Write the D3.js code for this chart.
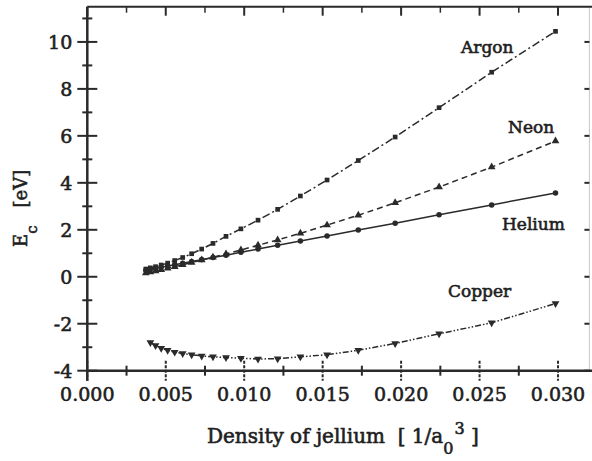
<!DOCTYPE html>
<html>
<head>
<meta charset="utf-8">
<script src="https://cdn.jsdelivr.net/npm/d3@7"></script>
<style>
  html, body { margin: 0; padding: 0; background: #fff; }
  svg { display: block; }
  text { font-family: "DejaVu Serif", serif; fill: #1e1e1e; stroke: #1e1e1e; stroke-width: 0.6px; white-space: pre; }
</style>
</head>
<body>
<svg id="chart" width="592" height="461"></svg>
<script>
// Jellium densities (1/a0^3) at which embedding energies were computed
const density = [0.00373, 0.00402, 0.00435, 0.00471, 0.00512, 0.00557, 0.00608,
  0.00665, 0.00729, 0.00801, 0.00884, 0.00979, 0.01088, 0.01213, 0.01358,
  0.01528, 0.01727, 0.01962, 0.02242, 0.02577, 0.02984];
const copperDensity = density.slice(1);

// Embedding energies E_c (eV)
const argon = [0.33, 0.38, 0.43, 0.50, 0.58, 0.69, 0.82, 0.98, 1.18, 1.42, 1.72,
  2.04, 2.41, 2.87, 3.44, 4.12, 4.95, 5.95, 7.20, 8.71, 10.45];
const neon = [0.16, 0.20, 0.25, 0.30, 0.36, 0.43, 0.51, 0.61, 0.71, 0.83, 0.97,
  1.14, 1.34, 1.57, 1.85, 2.20, 2.62, 3.15, 3.82, 4.67, 5.78];
const helium = [0.28, 0.32, 0.36, 0.40, 0.46, 0.51, 0.58, 0.65, 0.73, 0.82, 0.92,
  1.04, 1.18, 1.34, 1.52, 1.74, 1.99, 2.28, 2.64, 3.06, 3.57];
const copper = [-2.80, -2.93, -3.04, -3.13, -3.21, -3.27, -3.32, -3.37, -3.41,
  -3.44, -3.47, -3.50, -3.49, -3.41, -3.32, -3.13, -2.84, -2.43, -1.96, -1.14];

const xTicks = [0, 0.005, 0.010, 0.015, 0.020, 0.025, 0.030];
const yTicks = [-4, -2, 0, 2, 4, 6, 8, 10];

const svg = d3.select("#chart");
const plotLeft = 87.3, plotRight = 589.4, plotTop = 6.7, plotBottom = 370.7;

const x = d3.scaleLinear().domain([0, 0.032]).range([plotLeft, plotRight]);
const y = d3.scaleLinear().domain([-4, 11.5]).range([plotBottom, plotTop]);

const ink = "#2a2a2a";

// Series definitions
const series = [
  { name: "Argon", xs: density, ys: argon, dash: "8,3,2,3", marker: "square",
    label: [461, 53] },
  { name: "Neon", xs: density, ys: neon, dash: "6,4", marker: "triangle",
    label: [508, 133] },
  { name: "Helium", xs: density, ys: helium, dash: null, marker: "circle",
    label: [502, 230] },
  { name: "Copper", xs: copperDensity, ys: copper, dash: "6,2,1.5,2,1.5,2", marker: "triangleDown",
    label: [448, 297] }
];

const line = d3.line().x(d => x(d[0])).y(d => y(d[1]));
const symbols = {
  square: d3.symbol().type(d3.symbolSquare).size(22),
  triangle: d3.symbol().type(d3.symbolTriangle).size(26),
  circle: d3.symbol().type(d3.symbolCircle).size(24),
  triangleDown: d3.symbol().type(d3.symbolTriangle).size(26)
};

series.forEach(s => {
  const pts = s.xs.map((v, i) => [v, s.ys[i]]);
  svg.append("path")
    .datum(pts)
    .attr("d", line)
    .attr("fill", "none")
    .attr("stroke", ink)
    .attr("stroke-width", 1.5)
    .attr("stroke-dasharray", s.dash);
  svg.append("g").selectAll("path")
    .data(pts)
    .join("path")
    .attr("d", symbols[s.marker]())
    .attr("transform", d => `translate(${x(d[0])},${y(d[1])})` + (s.marker === "triangleDown" ? " rotate(180)" : ""))
    .attr("fill", ink);
  svg.append("text")
    .attr("x", s.label[0]).attr("y", s.label[1])
    .attr("font-size", 17)
    .text(s.name);
});

// Frame lines
svg.append("line").attr("x1", plotRight).attr("x2", plotRight).attr("y1", plotTop).attr("y2", plotBottom)
  .attr("stroke", "#c8c8c8").attr("stroke-width", 1);
svg.append("line").attr("x1", plotLeft).attr("x2", 592).attr("y1", plotTop).attr("y2", plotTop)
  .attr("stroke", ink).attr("stroke-width", 2);

// Bottom axis: ticks crossing the axis line
const xMinor = d3.range(0.0025, 0.032, 0.005);
const bottomAxis = svg.append("g").attr("transform", `translate(0,${plotBottom})`);
bottomAxis.append("line").attr("x1", plotLeft).attr("x2", 592).attr("stroke", ink).attr("stroke-width", 2.5);
bottomAxis.selectAll(".maj").data(xTicks).join("line")
  .attr("x1", d => x(d)).attr("x2", d => x(d)).attr("y1", -10).attr("y2", 10)
  .attr("stroke", ink).attr("stroke-width", 2).attr("stroke-dasharray", "3,1.5");
bottomAxis.selectAll(".min").data(xMinor).join("line")
  .attr("x1", d => x(d)).attr("x2", d => x(d)).attr("y1", -5).attr("y2", 5)
  .attr("stroke", ink).attr("stroke-width", 2);
bottomAxis.selectAll("text").data(xTicks).join("text")
  .attr("x", d => x(d)).attr("y", 30)
  .attr("text-anchor", "middle").attr("font-size", 19)
  .text(d3.format(".3f"));

// Top axis: inward ticks
const topAxis = svg.append("g").attr("transform", `translate(0,${plotTop})`);
topAxis.selectAll(".maj").data(xTicks).join("line")
  .attr("x1", d => x(d)).attr("x2", d => x(d)).attr("y1", 0).attr("y2", 9)
  .attr("stroke", ink).attr("stroke-width", 2);
topAxis.selectAll(".min").data(xMinor).join("line")
  .attr("x1", d => x(d)).attr("x2", d => x(d)).attr("y1", 0).attr("y2", 6)
  .attr("stroke", ink).attr("stroke-width", 1.5);

// Left axis
const yMinor = d3.range(-3, 11.5, 2);
const leftAxis = svg.append("g").attr("transform", `translate(${plotLeft},0)`);
leftAxis.append("line").attr("y1", plotTop).attr("y2", plotBottom + 10).attr("stroke", ink).attr("stroke-width", 2.5);
leftAxis.selectAll(".maj").data(yTicks).join("line")
  .attr("y1", d => y(d)).attr("y2", d => y(d)).attr("x1", -10).attr("x2", 10)
  .attr("stroke", ink).attr("stroke-width", 2);
leftAxis.selectAll(".min").data(yMinor).join("line")
  .attr("y1", d => y(d)).attr("y2", d => y(d)).attr("x1", -5).attr("x2", 5)
  .attr("stroke", ink).attr("stroke-width", 2);
leftAxis.selectAll("text").data(yTicks).join("text")
  .attr("x", -15).attr("y", d => y(d)).attr("dy", "0.36em")
  .attr("text-anchor", "end").attr("font-size", 19)
  .text(d => d);

// Right axis: inward ticks
svg.append("g").selectAll("line").data(yTicks).join("line")
  .attr("x1", plotRight - 5).attr("x2", plotRight).attr("y1", d => y(d)).attr("y2", d => y(d))
  .attr("stroke", ink).attr("stroke-width", 2);

// Axis titles
const xt = svg.append("text").attr("x", 207).attr("y", 443).attr("font-size", 20);
xt.append("tspan").text("Density of jellium  [ 1/a");
xt.append("tspan").attr("dy", 11).attr("font-size", 16).text("0");
xt.append("tspan").attr("dy", -20).attr("dx", 1).attr("font-size", 16).text("3");
xt.append("tspan").attr("dy", 9).text(" ]");

const yt = svg.append("text").attr("transform", "translate(27,247) rotate(-90)")
  .attr("font-size", 18);
yt.append("tspan").text("E");
yt.append("tspan").attr("dy", 10).attr("font-size", 15).text("c");
yt.append("tspan").attr("dy", -10).attr("dx", 18).text("[eV]");
</script>
</body>
</html>
